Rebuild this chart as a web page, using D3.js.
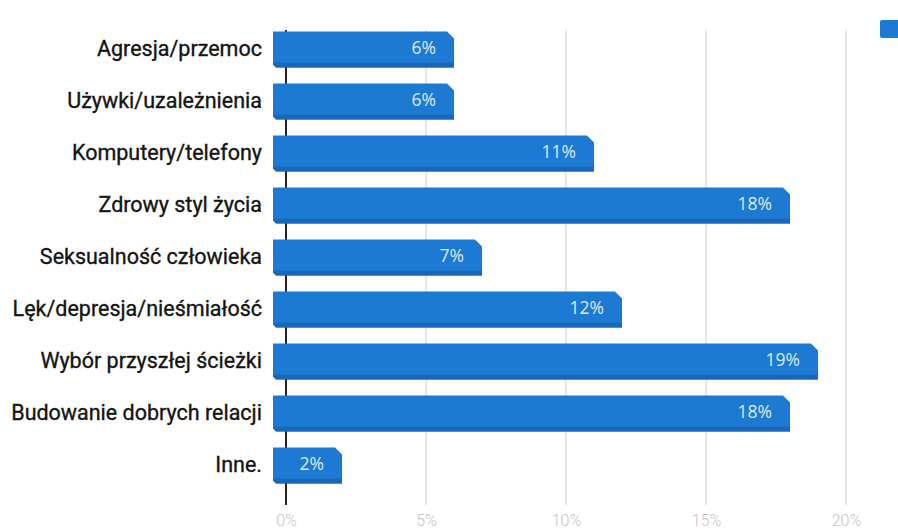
<!DOCTYPE html>
<html><head><meta charset="utf-8">
<script src="https://cdn.jsdelivr.net/npm/d3@7"></script>
<style>body{margin:0;background:#fff;}svg{display:block;}</style>
</head><body>
<svg id="c" width="898" height="532"></svg>
<script>
const categories = ["Agresja/przemoc","Używki/uzależnienia","Komputery/telefony","Zdrowy styl życia","Seksualność człowieka","Lęk/depresja/nieśmiałość","Wybór przyszłej ścieżki","Budowanie dobrych relacji","Inne."];
const values = [6, 6, 11, 18, 7, 12, 19, 18, 2];
const tickValues = [0, 5, 10, 15, 20];

const svg = d3.select("#c");
const x = d3.scaleLinear().domain([0, 20]).range([286, 846]);
const y = d3.scaleBand().domain(categories).range([23.5, 491.5]).paddingInner(0.31).paddingOuter(0.155);

// gridlines
svg.append("g").selectAll("line").data(tickValues.slice(1)).join("line")
  .attr("x1", d => x(d)).attr("x2", d => x(d)).attr("y1", 30).attr("y2", 505)
  .attr("stroke", "#cccccc").attr("stroke-width", 1);

// axis line
svg.append("line").attr("x1", x(0)).attr("x2", x(0)).attr("y1", 30).attr("y2", 505)
  .attr("stroke", "#222").attr("stroke-width", 2);

// x tick labels
const xAxis = d3.axisBottom(x).tickValues(tickValues).tickFormat(d => d + "%").tickSize(0).tickPadding(0);
const gx = svg.append("g").attr("transform", "translate(0,515)").call(xAxis);
gx.select(".domain").remove();
gx.selectAll("text").attr("fill", "#c4c4c4").attr("font-family", "Roboto, sans-serif")
  .attr("font-size", 16).attr("font-weight", 300);

// bars
const off = 13, ch = 7, bot = 5;
const bars = svg.append("g").selectAll("g").data(categories).join("g");
bars.append("path")
  .attr("d", (d, i) => {
    const x0 = x(0) - off, x1 = x(values[i]), t = y(d), b = y(d) + y.bandwidth();
    return `M${x0},${t} L${x1 - ch},${t} L${x1},${t + ch} L${x1},${b} L${x0 + 3},${b} L${x0},${b - 3} Z`;
  })
  .attr("fill", "#1c7ad3");
bars.append("path")
  .attr("d", (d, i) => {
    const x0 = x(0) - off, x1 = x(values[i]), b = y(d) + y.bandwidth();
    return `M${x0},${b - bot} L${x1},${b - bot} L${x1},${b} L${x0 + 3},${b} L${x0},${b - 3} Z`;
  })
  .attr("fill", "#1868b9");
bars.append("text")
  .attr("x", (d, i) => x(values[i]) - 18)
  .attr("y", d => y(d) + y.bandwidth() / 2 - 2)
  .attr("dy", "0.35em")
  .attr("text-anchor", "end")
  .attr("fill", "#dfe9f6")
  .attr("font-family", "Open Sans, sans-serif")
  .attr("font-size", 17.5)
  .text((d, i) => values[i] + "%");

// category labels
svg.append("g").selectAll("text").data(categories).join("text")
  .attr("x", 262)
  .attr("y", d => y(d) + y.bandwidth() / 2 - 1)
  .attr("dy", "0.35em")
  .attr("text-anchor", "end")
  .attr("fill", "#141414")
  .attr("stroke", "#141414")
  .attr("stroke-width", 0.35)
  .attr("font-family", "Roboto, sans-serif")
  .attr("font-weight", 400)
  .attr("font-size", 21.5)
  .text(d => d);

// legend swatch (cut off at right edge)
svg.append("rect").attr("x", 880).attr("y", 20).attr("width", 20).attr("height", 18).attr("rx", 2).attr("fill", "#1c7ad3");
</script>
</body></html>
